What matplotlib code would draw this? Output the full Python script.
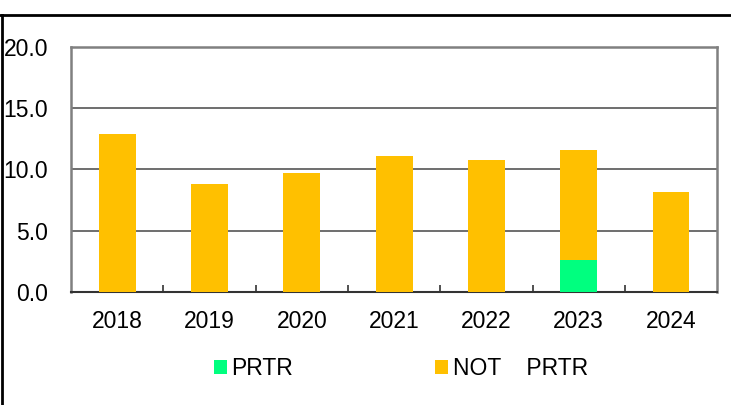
import numpy as np
import matplotlib
matplotlib.use('Agg')
import matplotlib.pyplot as plt
from matplotlib.lines import Line2D

years = ['2018', '2019', '2020', '2021', '2022', '2023', '2024']
prtr = [0.0, 0.0, 0.0, 0.0, 0.0, 2.6, 0.0]
not_prtr_total = [12.9, 8.8, 9.7, 11.1, 10.8, 11.6, 8.2]
y_ticks = [0.0, 5.0, 10.0, 15.0, 20.0]

COLOR_PRTR = '#00FF7F'
COLOR_NOT = '#FFC000'
FS = 16.5

plt.rcParams['font.family'] = ['Liberation Sans', 'DejaVu Sans']

fig = plt.figure(figsize=(7.31, 4.05), dpi=100)
ax = fig.add_axes([0.0971, 0.279, 0.884, 0.605])

x = np.arange(len(years))
not_prtr = np.array(not_prtr_total) - np.array(prtr)
ax.bar(x, prtr, 0.4, color=COLOR_PRTR, label='PRTR', zorder=3)
ax.bar(x, not_prtr, 0.4, bottom=prtr, color=COLOR_NOT, label='NOT    PRTR', zorder=3)

ax.set_xlim(-0.5, len(years) - 0.5)
ax.set_ylim(0, 20)
ax.set_yticks(y_ticks)
ax.set_yticklabels([f'{v:.1f}' for v in y_ticks], fontsize=FS)
ax.tick_params(axis='y', length=0, pad=16.5)

ax.set_xticks(x)
ax.set_xticklabels(years, fontsize=FS)
ax.tick_params(axis='x', which='major', length=0, pad=13)
ax.set_xticks(np.arange(0.5, len(years) - 0.5, 1.0), minor=True)
ax.tick_params(axis='x', which='minor', direction='in', length=5, width=1.2, color='#333333')

for yv in y_ticks[1:-1]:
    ax.axhline(yv, color='#555555', linewidth=1.2, zorder=1)

for side in ['top', 'right', 'left']:
    ax.spines[side].set_color('#808080')
    ax.spines[side].set_linewidth(1.8)
ax.spines['bottom'].set_color('#333333')
ax.spines['bottom'].set_linewidth(1.5)

fig.legend(loc='center', bbox_to_anchor=(0.5486, 0.0896), ncol=2, frameon=False,
           fontsize=FS, handlelength=0.55, handleheight=0.55, handletextpad=0.2,
           columnspacing=6.2)

# outer chart frame (left and top edges visible)
fig.add_artist(Line2D([0.003, 0.003], [0.0, 0.963], transform=fig.transFigure,
                      color='black', linewidth=2))
fig.add_artist(Line2D([0.0, 1.0], [0.963, 0.963], transform=fig.transFigure,
                      color='black', linewidth=2))

fig.savefig('out.png', dpi=100)
